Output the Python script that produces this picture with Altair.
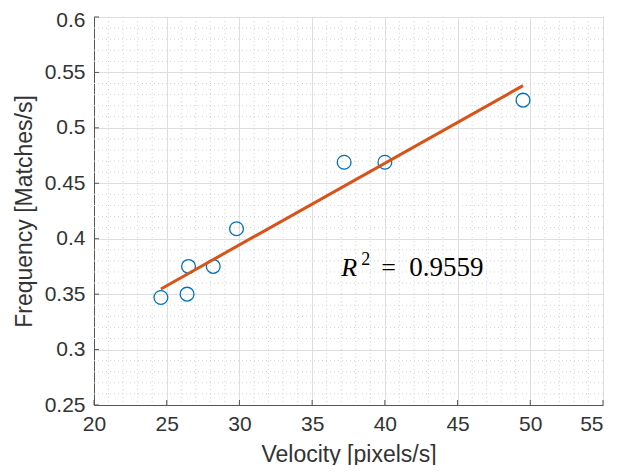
import altair as alt
import pandas as pd

# data
velocity = [24.6, 26.4, 26.5, 28.2, 29.8, 37.2, 40.0, 49.5]
frequency = [0.347, 0.350, 0.375, 0.375, 0.409, 0.469, 0.469, 0.525]

x_ticks = [20, 25, 30, 35, 40, 45, 50, 55]
y_ticks = [0.25, 0.3, 0.35, 0.4, 0.45, 0.5, 0.55, 0.6]
x_minor = [v for v in range(21, 55) if v % 5 != 0]
y_minor = [round(0.25 + 0.01 * i, 2) for i in range(1, 35) if i % 5 != 0]

r2_parts = ["R", "2", "=", "0.9559"]
r2_pos = [37.0, 0.3665]

W, H = 509, 388
BLUE = "#0072BD"
ORANGE = "#D95319"
TXT = "#333333"

df = pd.DataFrame({"vel": velocity, "freq": frequency})
xs = alt.Scale(domain=[20, 55], nice=False, zero=False)
ys = alt.Scale(domain=[0.25, 0.6], nice=False, zero=False)

minor_x = alt.Chart(pd.DataFrame({"v": x_minor})).mark_rule(
    color="#d4d4d4", strokeDash=[1, 3], strokeWidth=1
).encode(x=alt.X("v:Q", scale=xs))
minor_y = alt.Chart(pd.DataFrame({"v": y_minor})).mark_rule(
    color="#d4d4d4", strokeDash=[1, 3], strokeWidth=1
).encode(y=alt.Y("v:Q", scale=ys))

tick_x = alt.Chart(pd.DataFrame({"v": x_ticks})).mark_rule(
    color="#555555", strokeWidth=1
).encode(x=alt.X("v:Q", scale=xs), y=alt.value(H), y2=alt.value(H - 5))
tick_y = alt.Chart(pd.DataFrame({"v": y_ticks})).mark_rule(
    color="#555555", strokeWidth=1
).encode(y=alt.Y("v:Q", scale=ys), x=alt.value(0), x2=alt.value(5))

base = alt.Chart(df)

points = base.mark_point(
    shape="circle", filled=False, size=190, strokeWidth=1.3, color=BLUE, opacity=1
).encode(
    x=alt.X(
        "vel:Q",
        scale=xs,
        axis=alt.Axis(
            values=x_ticks,
            title="Velocity [pixels/s]",
            grid=True,
            gridColor="#dedede",
            gridWidth=1,
            ticks=False,
            labelPadding=8,
            titlePadding=9,
            domainColor="#555555",
            labelFlush=False,
            labelAlign=alt.expr("datum.value == 55 ? 'right' : 'center'"),
        ),
    ),
    y=alt.Y(
        "freq:Q",
        scale=ys,
        axis=alt.Axis(
            values=y_ticks,
            format="~g",
            title="Frequency [Matches/s]",
            grid=True,
            gridColor="#dedede",
            gridWidth=1,
            ticks=False,
            labelPadding=9,
            titlePadding=8,
            domainColor="#555555",
            labelFlush=False,
            labelOffset=alt.expr("datum.value == 0.6 ? 3 : 0"),
        ),
    ),
)

fit = base.transform_regression("vel", "freq").mark_line(
    color=ORANGE, strokeWidth=3
).encode(x=alt.X("vel:Q", scale=xs), y=alt.Y("freq:Q", scale=ys))

ann = pd.DataFrame({"x": [r2_pos[0]], "y": [r2_pos[1]]})


def part(text, size, dx, dy=0, style="normal"):
    return alt.Chart(ann).mark_text(
        text=text, font="Liberation Serif", fontSize=size, fontStyle=style,
        align="left", baseline="alphabetic", color="#000000", dx=dx, dy=dy
    ).encode(x=alt.X("x:Q", scale=xs), y=alt.Y("y:Q", scale=ys))


r_txt = part(r2_parts[0], 26, 0, 0, "italic")
sup_txt = part(r2_parts[1], 18, 20, -11)
eq_txt = part(r2_parts[2], 26, 40)
num_txt = part(r2_parts[3], 27, 68)

chart = alt.layer(
    minor_x, minor_y, points, fit, tick_x, tick_y, r_txt, sup_txt, eq_txt, num_txt
).properties(
    width=W, height=H,
    autosize="none",
    padding={"left": 86, "top": 9, "right": 10, "bottom": 60},
    background="white",
).configure_view(
    stroke="#999999", strokeWidth=1
).configure_axis(
    labelFont="Liberation Sans", titleFont="Liberation Sans",
    labelFontSize=21, titleFontSize=23, labelColor=TXT, titleColor=TXT,
    titleFontWeight="normal",
)

chart.save("out.html", embed_options={"renderer": "svg", "actions": False})
